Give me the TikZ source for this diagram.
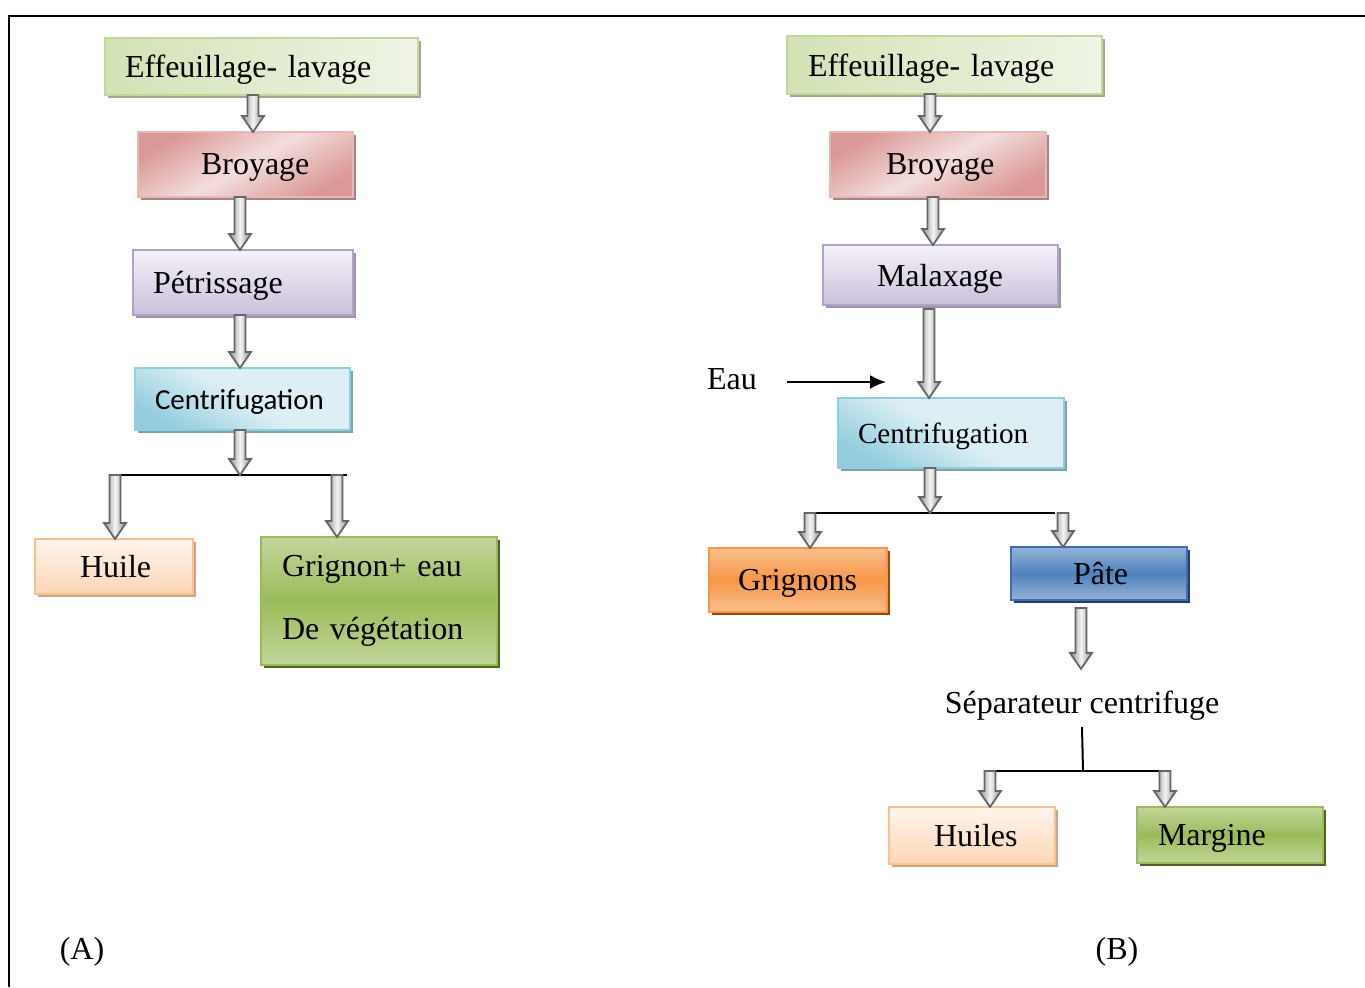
\documentclass[tikz,border=0pt]{standalone}
\usepackage{fontspec}
\setmainfont{Liberation Serif}
\newfontfamily\cali{Carlito}
\usetikzlibrary{shadows,arrows.meta,calc}
\definecolor{gLa}{HTML}{D3E2B5}\definecolor{gLb}{HTML}{EFF4E6}\definecolor{gLbd}{HTML}{C3D69B}\definecolor{shEff}{HTML}{A3A88F}
\definecolor{rDk}{HTML}{DA9896}\definecolor{rLt}{HTML}{F3DEDD}\definecolor{rBd}{HTML}{E6B9B8}\definecolor{shBr}{HTML}{A38585}
\definecolor{pDk}{HTML}{CAC0DC}\definecolor{pLt}{HTML}{F5F2F8}\definecolor{pBd}{HTML}{B3A2C7}\definecolor{shPe}{HTML}{9C95A8}
\definecolor{bDk}{HTML}{93CDDD}\definecolor{bLt}{HTML}{DDEFF5}\definecolor{bBd}{HTML}{92CDDC}\definecolor{shCe}{HTML}{7FA3AD}
\definecolor{oLt}{HTML}{FFF5EE}\definecolor{oMd}{HTML}{FCD5B5}\definecolor{oBd}{HTML}{FAC090}\definecolor{shHu}{HTML}{C9A58A}
\definecolor{gMd}{HTML}{9BBB59}\definecolor{gTp}{HTML}{C3D69B}\definecolor{gBd}{HTML}{9BBB59}\definecolor{shGr}{HTML}{4F6228}
\definecolor{orMd}{HTML}{F79646}\definecolor{orLt}{HTML}{FAC090}\definecolor{shOr}{HTML}{984807}
\definecolor{blMd}{HTML}{4F81BD}\definecolor{blLt}{HTML}{95B3D7}\definecolor{blBd}{HTML}{3E6DB5}\definecolor{shBl}{HTML}{254061}
\definecolor{arBd}{HTML}{666666}\definecolor{arGr}{HTML}{8C8C8C}\definecolor{arMd}{HTML}{F4F4F4}
\newcommand\fsz{\fontsize{16}{19.2}\selectfont}
\tikzset{
  box/.style={draw, line width=1pt, anchor=north west, outer sep=0pt,
    inner xsep=5pt, inner ysep=0pt, align=left, font=\fsz, text depth=0pt,
    drop shadow={shadow xshift=1.5pt, shadow yshift=-1.5pt, fill=#1, opacity=1}},
  blockarrow/.style={draw=arBd, line width=0.9pt, left color=arGr, right color=arGr, middle color=arMd},
  plainline/.style={line width=1pt, black},
  lbl/.style={font=\fsz, inner sep=3pt}
}
\newcommand\barrow[3]{%
  \path let \p1=(#2), \p2=(#3), \p3=(#1,0) in
    [blockarrow] (\x3-2.75pt,\y1) -- (\x3+2.75pt,\y1) -- (\x3+2.75pt,\y2+8pt)
    -- (\x3+5.5pt,\y2+8pt) -- (\x3,\y2) -- (\x3-5.5pt,\y2+8pt)
    -- (\x3-2.75pt,\y2+8pt) -- cycle;}
\begin{document}
\begin{tikzpicture}[x=0.5pt,y=-0.5pt]
\useasboundingbox (0,0) rectangle (1365,987);
% frame
\draw[line width=1pt] (9,987) -- (9,16) -- (1365,16);

% ---------- (A) ----------
\node[box=shEff, draw=gLbd, left color=gLa, right color=gLb, text width=146.5pt, minimum height=28.5pt] (effA) at (105,38) {\hspace*{5pt}Effeuillage- lavage};
\node[box=shBr, draw=rBd, top color=rDk, bottom color=rDk, middle color=rLt, shading angle=30, text width=97.5pt, minimum height=32.5pt] (brA) at (138,132) {\hspace*{26.5pt}Broyage};
\node[box=shPe, draw=pBd, top color=pLt, bottom color=pDk, text width=100pt, minimum height=32.5pt] (petA) at (133,250) {\hspace*{5pt}Pétrissage};
\node[box=shCe, draw=bBd, top color=bLt, bottom color=bDk, middle color=bLt, shading angle=-30, text width=97.5pt, minimum height=31pt, font=\cali\fontsize{14.5}{17}\selectfont] (cenA) at (135,368) {\hspace*{5pt}Centrifugation};
\node[box=shHu, draw=oBd, top color=oLt, bottom color=oMd, text width=69pt, minimum height=27.5pt] (huiA) at (35,539) {\hspace*{17.5pt}Huile};
\node[box=shGr, draw=gBd, top color=gTp, bottom color=gTp, middle color=gMd, text width=108pt, minimum height=64pt, text depth=] (grA) at (261,537) {\hspace*{5.5pt}Grignon+ eau\\[12pt]\hspace*{5.5pt}De végétation};

\coordinate (sAl) at (110,475);
\coordinate (sA) at (240,475);
\coordinate (sAr) at (347,475);
\draw[plainline] (sAl) -- (sAr);

\barrow{253}{effA.south}{brA.north}
\barrow{240}{brA.south}{petA.north}
\barrow{240}{petA.south}{cenA.north}
\barrow{240}{cenA.south}{sA}
\barrow{115}{sA}{huiA.north}
\barrow{337}{sA}{grA.north}

\node[lbl] (labA) at (82,952) {(A)};

% ---------- (B) ----------
\node[box=shEff, draw=gLbd, left color=gLa, right color=gLb, text width=147.5pt, minimum height=29pt] (effB) at (787,36) {\hspace*{5.5pt}Effeuillage- lavage};
\node[box=shBr, draw=rBd, top color=rDk, bottom color=rDk, middle color=rLt, shading angle=30, text width=98pt, minimum height=32.5pt] (brB) at (830,132) {\hspace*{23pt}Broyage};
\node[box=shPe, draw=pBd, top color=pLt, bottom color=pDk, text width=107.5pt, minimum height=30pt] (malB) at (823,245) {\hspace*{22pt}Malaxage};
\node[box=shCe, draw=bBd, top color=bLt, bottom color=bDk, middle color=bLt, shading angle=-30, text width=103pt, minimum height=35pt, font=\fontsize{14.6}{17.5}\selectfont] (cenB) at (838,398) {\hspace*{5pt}Centrifugation};

\node[lbl] (eau) at (732,379) {Eau};
\coordinate (eauend) at (886,382);
\draw[line width=1pt, -{Latex[length=8pt,width=7pt]}] (eau.east |- eauend) ++(12pt,0) -- (eauend);

\coordinate (sBl) at (810,513);
\coordinate (sB) at (930,513);
\coordinate (sBr) at (1055,513);
\draw[plainline] (sBl) -- (sBr);

\node[box=shOr, draw=orMd, top color=orLt, bottom color=orLt, middle color=orMd, text width=79pt, minimum height=32pt] (grnB) at (709,548) {\hspace*{9.5pt}Grignons};
\node[box=shBl, draw=blBd, top color=blLt, bottom color=blLt, middle color=blMd, text width=78pt, minimum height=26.5pt] (pateB) at (1011,547) {\hspace*{26pt}Pâte};

\barrow{930}{effB.south}{brB.north}
\barrow{933}{brB.south}{malB.north}
\barrow{929}{[yshift=-2pt]malB.south}{cenB.north}
\barrow{930}{cenB.south}{sB}
\barrow{810}{sB}{grnB.north}
\barrow{1063}{sB}{pateB.north}

\node[lbl] (sep) at (1082,706) {Séparateur centrifuge};
\barrow{1081}{[yshift=-4pt]pateB.south}{[yshift=8pt]sep.north}

\coordinate (sC) at (1083,771);
\coordinate (sCl) at (990,771);
\coordinate (sCr) at (1160,771);
\draw[plainline] (sep.south) -- (sC);
\draw[plainline] (sCl) -- (sCr);

\node[box=shHu, draw=oBd, top color=oLt, bottom color=oMd, text width=73pt, minimum height=28.5pt] (huiB) at (889,807) {\hspace*{17.5pt}Huiles};
\node[box=shGr, draw=gBd, top color=gTp, bottom color=gTp, middle color=gMd, text width=83pt, minimum height=28pt] (marB) at (1137,807) {\hspace*{5.5pt}Margine};

\barrow{990}{sC}{huiB.north}
\barrow{1165}{sC}{marB.north}

\node[lbl] (labB) at (1117,952) {(B)};
\end{tikzpicture}
\end{document}
